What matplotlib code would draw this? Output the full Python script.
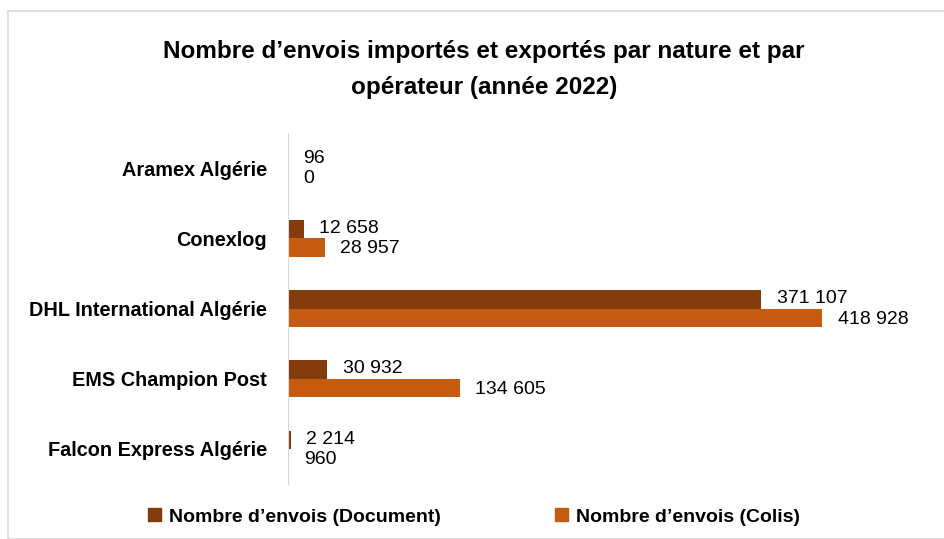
import matplotlib
matplotlib.use("Agg")
import matplotlib.pyplot as plt
from matplotlib.patches import Rectangle, Patch

operateurs = ["Aramex Algérie", "Conexlog", "DHL International Algérie",
              "EMS Champion Post", "Falcon Express Algérie"]
documents = [96, 12658, 371107, 30932, 2214]
colis = [0, 28957, 418928, 134605, 960]

col_doc = "#843C0C"
col_colis = "#C55A11"

plt.rcParams['font.family'] = ['Liberation Sans', 'DejaVu Sans']


def fmt(v):
    return f"{v:,}".replace(",", " ")


fig = plt.figure(figsize=(9.44, 5.39), dpi=100)
fig.patches.append(Rectangle((8 / 944, 0), 1, 1 - 11 / 539, transform=fig.transFigure,
                             fill=False, edgecolor="#d9d9d9", linewidth=1.2))

ax = fig.add_axes([288 / 944, 1 - 484 / 539, (862 - 288) / 944, (484 - 133) / 539])

h = 0.26
pos = list(range(len(operateurs)))
ax.barh([p - h / 2 for p in pos], documents, height=h, color=col_doc)
ax.barh([p + h / 2 for p in pos], colis, height=h, color=col_colis)

for p, d, c in zip(pos, documents, colis):
    ax.annotate(fmt(d), (d, p - h / 2 - 0.01), xytext=(11, 0), textcoords="offset points",
                va="center", ha="left", fontsize=14)
    ax.annotate(fmt(c), (c, p + h / 2 + 0.02), xytext=(11, 0), textcoords="offset points",
                va="center", ha="left", fontsize=14)

ax.set_xlim(0, 450000)
ax.set_ylim(4.5, -0.5)
ax.set_yticks(pos)
ax.set_yticklabels(operateurs, fontsize=14.3, fontweight="bold")
ax.tick_params(axis="y", length=0, pad=15)
ax.set_xticks([])
for s in ["top", "right", "bottom"]:
    ax.spines[s].set_visible(False)
ax.spines["left"].set_color("#d9d9d9")

fig.text(484 / 944, 1 - 40 / 539,
         "Nombre d’envois importés et exportés par nature et par\nopérateur (année 2022)",
         ha="center", va="top", fontsize=17.5, fontweight="bold", linespacing=1.7)

handles = [Patch(color=col_doc), Patch(color=col_colis)]
fig.legend(handles, ["Nombre d’envois (Document)", "Nombre d’envois (Colis)"],
           loc="center", bbox_to_anchor=(474 / 944, 1 - 517 / 539), ncol=2, frameon=False,
           prop={"size": 14, "weight": "bold"}, handlelength=0.65, handleheight=0.65,
           handletextpad=0.4, columnspacing=5.9)

fig.savefig("out.png", dpi=100)
